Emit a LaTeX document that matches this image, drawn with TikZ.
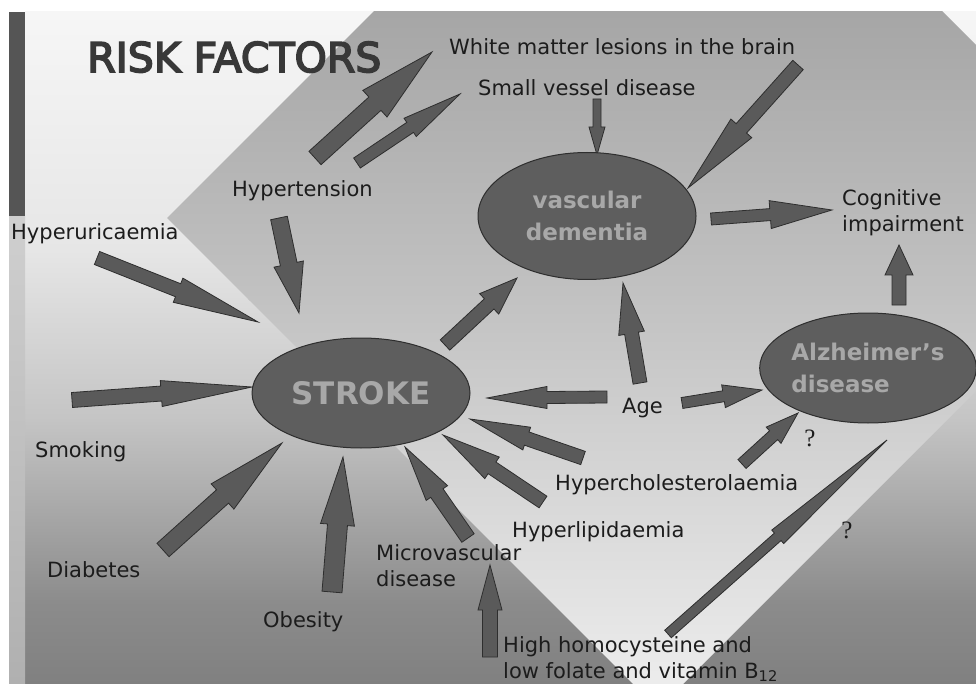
\documentclass[tikz,border=0pt]{standalone}
\usepackage{fontspec}
\setmainfont{DejaVu Sans}
\newfontfamily\qfont{Liberation Serif}
\newfontfamily\titlefont{DejaVu Sans}[FakeBold=4]
\usetikzlibrary{shapes.geometric,calc}
\definecolor{arrfill}{HTML}{5A5A5A}
\definecolor{arrline}{HTML}{2E2E2E}
\definecolor{ellfill}{HTML}{5E5E5E}
\definecolor{elltext}{HTML}{A8A8A8}
\definecolor{labtext}{HTML}{1C1C1C}
\definecolor{titletext}{HTML}{383838}
\definecolor{bga}{HTML}{F6F6F6}
\definecolor{bgb}{HTML}{E6E6E6}
\definecolor{bgc}{HTML}{C4C4C4}
\definecolor{bgd}{HTML}{8C8C8C}
\definecolor{bge}{HTML}{808080}
\definecolor{ina}{HTML}{A6A6A6}
\definecolor{inb}{HTML}{C2C2C2}
\definecolor{inc}{HTML}{ECECEC}
\definecolor{stripdark}{HTML}{555555}
\definecolor{stripla}{HTML}{CFCFCF}
\definecolor{striplb}{HTML}{B0B0B0}
\newcommand\barrow[5]{%
 \coordinate (bH) at ($(#2)!#5!(#1)$);
 \draw[blockarrow] ($(#1)!#3!90:(#2)$) -- ($(bH)!#3!90:(#2)$) -- ($(bH)!#4!90:(#2)$) -- (#2) -- ($(bH)!#4!-90:(#2)$) -- ($(bH)!#3!-90:(#2)$) -- ($(#1)!#3!-90:(#2)$) -- cycle;}
\begin{document}
\begin{tikzpicture}[x=1pt,y=-1pt,
 lab/.style={font=\fontsize{21}{26}\selectfont, text=labtext, inner sep=0pt, anchor=base west, align=left},
 labml/.style={lab, anchor=north west},
 ell/.style={ellipse, draw=arrline, line width=1pt, fill=ellfill, text=elltext, font=\bfseries\fontsize{23}{32}\selectfont, inner sep=0pt},
 blockarrow/.style={fill=arrfill, draw=arrline, line width=0.8pt, line join=miter},
 qmark/.style={font=\qfont\fontsize{25}{25}\selectfont, text=labtext, inner sep=0pt}]
\useasboundingbox (0,0) rectangle (976,684);
\fill[white] (0,0) rectangle (976,684);
% outside background
\shade[top color=bga, bottom color=bgb] (25,12) rectangle (976,251);
\shade[top color=bgb, bottom color=bgc] (25,250) rectangle (976,421);
\shade[top color=bgc, bottom color=bgd] (25,420) rectangle (976,601);
\shade[top color=bgd, bottom color=bge] (25,600) rectangle (976,684);
% diamond
\begin{scope}
\clip (658,-273) -- (1149,218) -- (658,709) -- (167,218) -- cycle;
\shade[top color=ina, bottom color=inb] (25,12) rectangle (976,301);
\shade[top color=inb, bottom color=inc] (25,300) rectangle (976,684);
\end{scope}
% left strip
\fill[stripdark] (9,12) rectangle (25,217);
\shade[top color=stripla, bottom color=striplb] (9,217) rectangle (25,684);

% title and labels
\node[font=\titlefont\fontsize{41}{41}\selectfont, text=titletext, inner sep=0pt, anchor=base west] (risk) at (87,72) {RISK FACTORS};
\node[lab] (wml) at (449,55) {White matter lesions in the brain};
\node[lab] (svd) at (478,96) {Small vessel disease};
\node[lab] (hyt) at (232,197) {Hypertension};
\node[lab] (hyu) at (11,240) {Hyperuricaemia};
\node[labml] (cog) at (842,189) {Cognitive\\impairment};
\node[lab] (smk) at (35,457) {Smoking};
\node[lab] (dia) at (47,577) {Diabetes};
\node[lab] (obe) at (263,627) {Obesity};
\node[labml] (mic) at (376,544) {Microvascular\\disease};
\node[lab] (hlp) at (512,537) {Hyperlipidaemia};
\node[lab] (hch) at (555,490) {Hypercholesterolaemia};
\node[lab] (age) at (622,413) {Age};
\node[labml] (hhc) at (503,636) {High homocysteine and\\low folate and vitamin B\textsubscript{12}};
\node[qmark] (q1) at (810,438) {?};
\node[qmark] (q2) at (847,530) {?};

% arrows
\coordinate (a1s) at (315,158); \coordinate (a1e) at (432,52);
\barrow{a1s}{a1e}{9pt}{18pt}{77pt}
\coordinate (a2s) at (357,163); \coordinate (a2e) at (460,94);
\barrow{a2s}{a2e}{6pt}{11pt}{60pt}
\coordinate (a3s) at (597,99); \coordinate (a3e) at (597,155);
\barrow{a3s}{a3e}{4pt}{8pt}{28pt}
\coordinate (a4s) at (798,65); \coordinate (a4e) at (688,188);
\barrow{a4s}{a4e}{7pt}{14pt}{80pt}
\coordinate (a5s) at (711,219); \coordinate (a5e) at (832,210);
\barrow{a5s}{a5e}{6pt}{14pt}{62pt}
\coordinate (a6s) at (899,305); \coordinate (a6e) at (899,245);
\barrow{a6s}{a6e}{7pt}{14pt}{30pt}
\coordinate (a7s) at (279,218); \coordinate (a7e) at (299,313);
\barrow{a7s}{a7e}{8.5pt}{15pt}{50pt}
\coordinate (a8s) at (97,258); \coordinate (a8e) at (258,322);
\barrow{a8s}{a8e}{7pt}{13pt}{86pt}
\coordinate (a9s) at (72,400); \coordinate (a9e) at (252,387);
\barrow{a9s}{a9e}{7.5pt}{13pt}{91pt}
\coordinate (a10s) at (163,550); \coordinate (a10e) at (282,443);
\barrow{a10s}{a10e}{9pt}{17pt}{80pt}
\coordinate (a11s) at (332,592); \coordinate (a11e) at (343,457);
\barrow{a11s}{a11e}{10pt}{17pt}{68pt}
\coordinate (a12s) at (468,538); \coordinate (a12e) at (405,447);
\barrow{a12s}{a12e}{7.5pt}{13pt}{56pt}
\coordinate (a13s) at (543,502); \coordinate (a13e) at (443,435);
\barrow{a13s}{a13e}{7pt}{13pt}{59pt}
\coordinate (a14s) at (583,458); \coordinate (a14e) at (470,419);
\barrow{a14s}{a14e}{7pt}{12pt}{60pt}
\coordinate (a15s) at (607,397); \coordinate (a15e) at (487,398);
\barrow{a15s}{a15e}{6pt}{11pt}{60pt}
\coordinate (a16s) at (445,345); \coordinate (a16e) at (517,278);
\barrow{a16s}{a16e}{7pt}{14pt}{38pt}
\coordinate (a17s) at (640,383); \coordinate (a17e) at (623,283);
\barrow{a17s}{a17e}{7pt}{13pt}{51pt}
\coordinate (a18s) at (682,403); \coordinate (a18e) at (762,390);
\barrow{a18s}{a18e}{5.5pt}{11.5pt}{39pt}
\coordinate (a19s) at (742,464); \coordinate (a19e) at (798,413);
\barrow{a19s}{a19e}{6pt}{11pt}{33pt}
\coordinate (a20s) at (668,634); \coordinate (a20e) at (887,440);
\barrow{a20s}{a20e}{5pt}{9pt}{146pt}
\coordinate (a21s) at (490,657); \coordinate (a21e) at (490,565);
\barrow{a21s}{a21e}{7.5pt}{12pt}{45pt}

% ellipses
\node[ell, minimum width=218pt, minimum height=127pt, align=center] (vd) at (587,216) {vascular\\dementia};
\node[ell, minimum width=218pt, minimum height=110pt, font=\bfseries\fontsize{31}{31}\selectfont] (stroke) at (361,393) {STROKE};
\node[ell, minimum width=212pt, minimum height=110pt, align=left] (alz) at (868,368) {Alzheimer's\\disease};
\end{tikzpicture}
\end{document}
